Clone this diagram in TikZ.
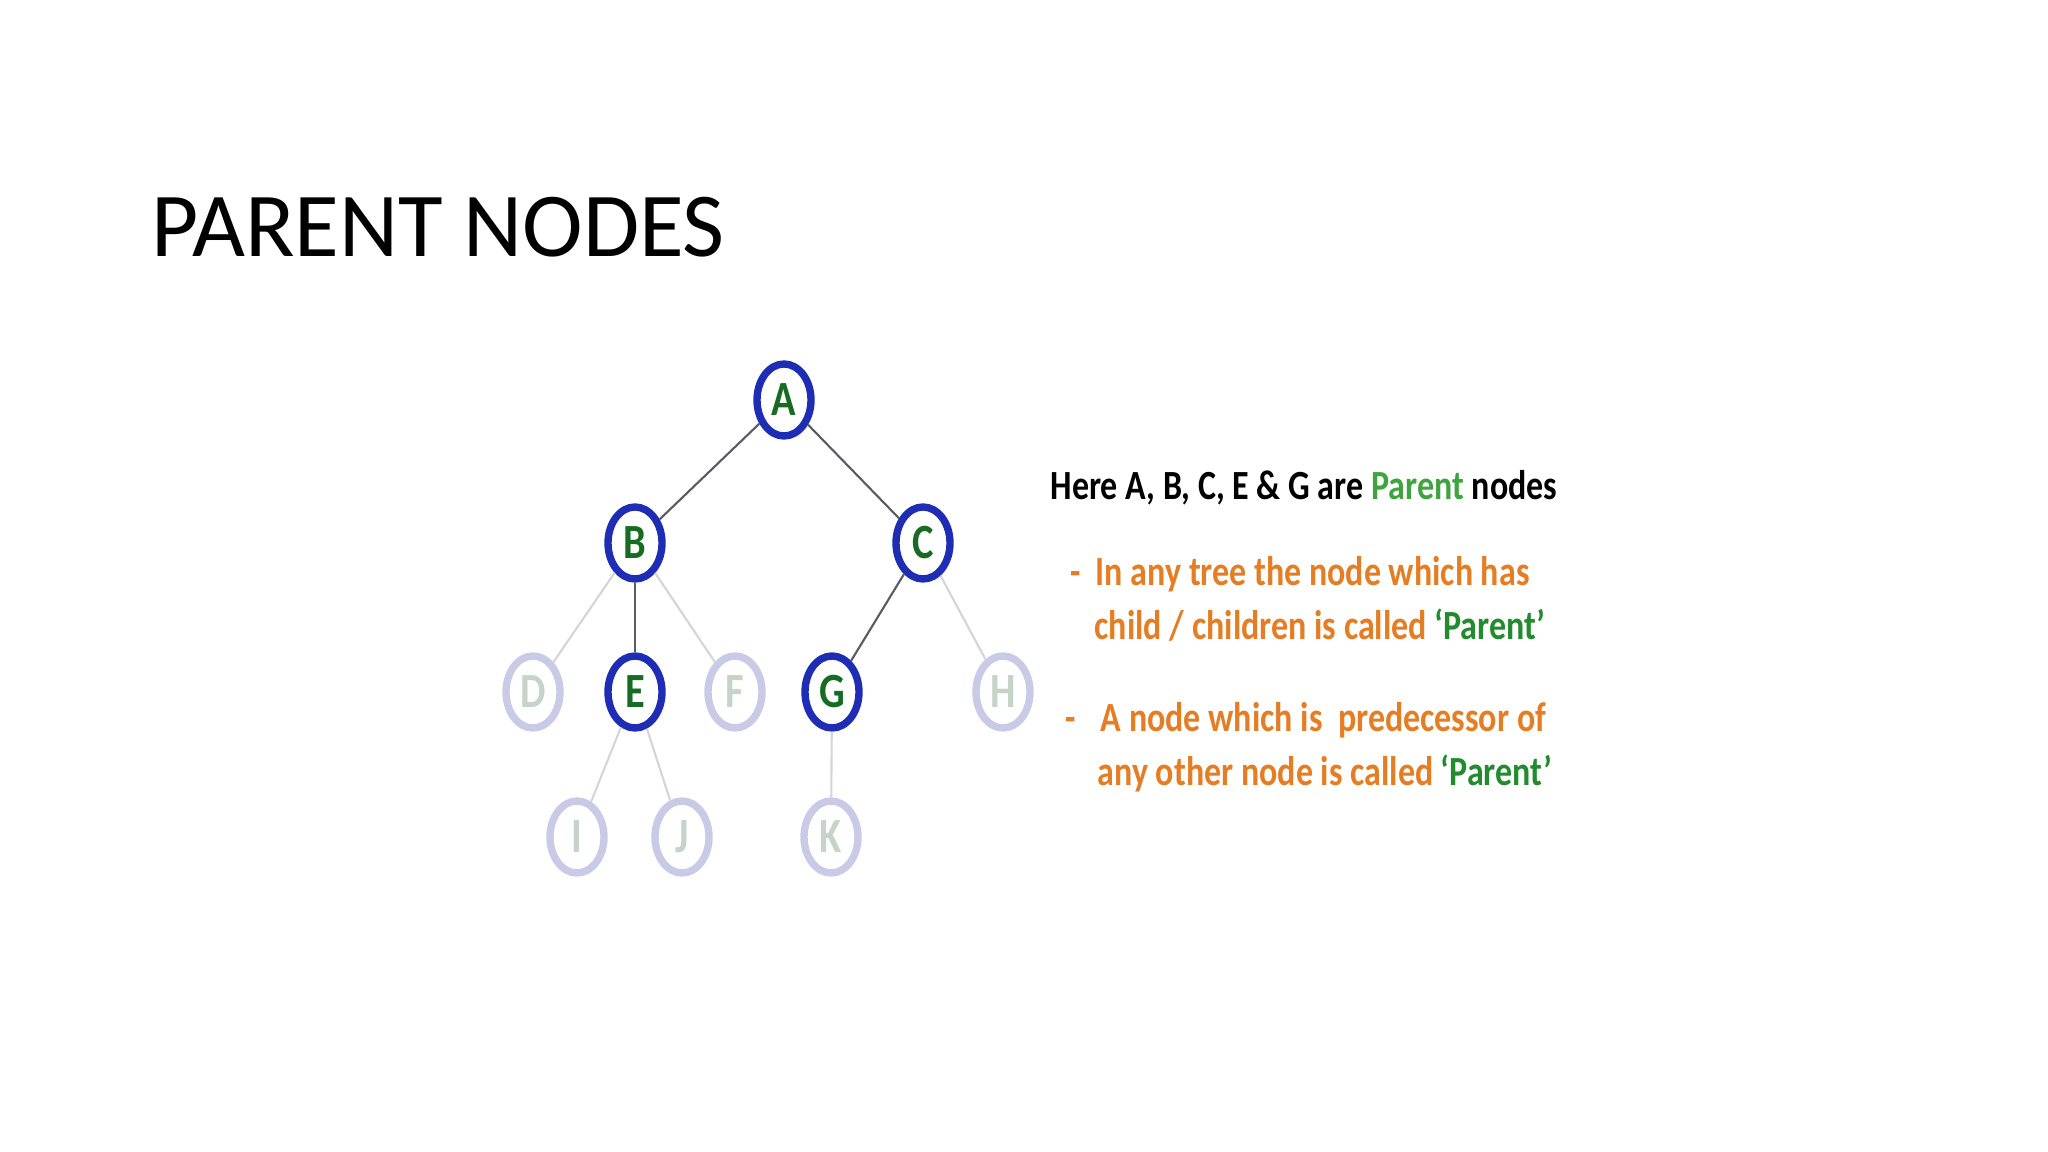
\documentclass[tikz,border=0pt]{standalone}
\usepackage{fontspec}
\setmainfont{Carlito}
\newfontfamily\slimfont[FakeStretch=0.82]{Carlito}
\usepackage{tikz}
\usetikzlibrary{shapes.geometric}
\definecolor{ringblue}{HTML}{1F2DB4}
\definecolor{ringpale}{HTML}{C8CAE6}
\definecolor{lettergreen}{HTML}{176B23}
\definecolor{letterpale}{HTML}{C5D3C8}
\definecolor{txtorange}{HTML}{E47D23}
\definecolor{txtgreen}{HTML}{3FA33F}
\definecolor{txtgreendk}{HTML}{228B2E}
\definecolor{edgedark}{HTML}{5A5A66}
\definecolor{edgepale}{HTML}{D4D4DA}
\newcommand{\pr}[1]{\textcolor{txtgreendk}{#1}}

\begin{document}
\begin{tikzpicture}[x=0.1mm, y=-0.1mm,
  every node/.style={inner sep=0pt},
  parent/.style={ellipse, draw=ringblue, line width=2.1pt, minimum width=5.4mm, minimum height=7.2mm,
    text=lettergreen, font=\slimfont\fontsize{14}{14}\selectfont\bfseries},
  leaf/.style={parent, draw=ringpale, text=letterpale},
  link/.style={draw=edgedark, line width=0.6pt},
  faint/.style={draw=edgepale, line width=0.6pt},
  line/.style={anchor=base west, font=\slimfont\fontsize{11.8}{12}\selectfont\bfseries, text=txtorange}]
  \useasboundingbox (0,0) rectangle (2048,1152);
  \node[anchor=base west, font=\fontsize{26}{27}\selectfont] (title) at (151,257) {PARENT NODES};
  % the tree
  \node[parent] (A) at (784,400) {A};
  \node[parent] (B) at (635,543) {B};
  \node[parent] (C) at (923,543) {C};
  \node[leaf] (D) at (533,692) {D};
  \node[parent] (E) at (635,692) {E};
  \node[leaf] (F) at (735,692) {F};
  \node[parent] (G) at (832,692) {G};
  \node[leaf] (H) at (1003,692) {H};
  \node[leaf] (I) at (577,837) {I};
  \node[leaf] (J) at (682,837) {J};
  \node[leaf] (K) at (831,837) {K};
  \draw[link] (A) -- (B);
  \draw[link] (A) -- (C);
  \draw[link] (B) -- (E);
  \draw[link] (C) -- (G);
  \draw[faint] (B) -- (D);
  \draw[faint] (B) -- (F);
  \draw[faint] (C) -- (H);
  \draw[faint] (E) -- (I);
  \draw[faint] (E) -- (J);
  \draw[faint] (G) -- (K);
  % the text on the right
  \node[line, text=black] (head) at (1050,500) {Here A, B, C, E \& G are \textcolor{txtgreen}{Parent} nodes};
  \node[line] (dash1) at (1070,586) {-};
  \node[line] (b1a) at (1095,586) {In any tree the node which has};
  \node[line] (b1b) at (1094,640) {child / children is called \pr{‘Parent’}};
  \node[line] (dash2) at (1065,732) {-};
  \node[line] (b2a) at (1100,732) {A node which is\ \ predecessor of};
  \node[line] (b2b) at (1097,786) {any other node is called \pr{‘Parent’}};
\end{tikzpicture}
\end{document}
